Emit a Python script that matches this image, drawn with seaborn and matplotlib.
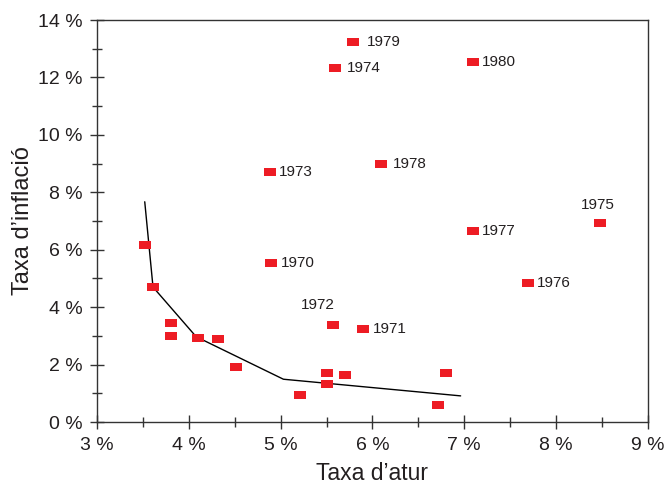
import pandas as pd
import seaborn as sns
import matplotlib.pyplot as plt
from matplotlib.ticker import MultipleLocator, FuncFormatter

# data (unemployment %, inflation %)
years = ["1970", "1971", "1972", "1973", "1974", "1975", "1976", "1977", "1978", "1979", "1980"]
atur_years = [4.9, 5.9, 5.57, 4.88, 5.59, 8.48, 7.69, 7.09, 6.09, 5.79, 7.09]
inflacio_years = [5.55, 3.25, 3.39, 8.71, 12.34, 6.94, 4.84, 6.66, 8.99, 13.24, 12.54]

# earlier points, no label
atur_60s = [3.52, 3.61, 3.81, 3.81, 4.1, 4.32, 4.51, 5.21, 5.5, 5.5, 5.7, 6.8, 6.71]
inflacio_60s = [6.18, 4.71, 3.46, 3.0, 2.94, 2.89, 1.92, 0.94, 1.72, 1.33, 1.65, 1.72, 0.6]

# phillips curve
curve_x = [3.52, 3.61, 4.08, 5.03, 6.96]
curve_y = [7.67, 4.7, 2.97, 1.49, 0.91]

sns.set_style("ticks")
plt.rcParams['font.family'] = ['Liberation Sans', 'DejaVu Sans']
txt_col = '#231f20'

pts = pd.DataFrame({'atur': atur_60s + atur_years, 'inflacio': inflacio_60s + inflacio_years})
curve = pd.DataFrame({'x': curve_x, 'y': curve_y})

fig = plt.figure(figsize=(6.68, 4.93), dpi=100)
ax = fig.add_axes([0.1452, 0.144, 0.8248, 0.8154])

sns.lineplot(data=curve, x='x', y='y', sort=False, color='black', linewidth=1, ax=ax)

rect = [(-1, -0.6), (1, -0.6), (1, 0.6), (-1, 0.6), (-1, -0.6)]
sns.scatterplot(data=pts, x='atur', y='inflacio', marker=rect, s=75,
                color='#ed1c24', linewidth=0, ax=ax, zorder=3)

# label offsets in points
offsets = {"1975": (-2, 13, 'center'), "1972": (-11, 14, 'center'),
           "1979": (10, 0, 'left'), "1974": (9, 0, 'left'), "1978": (8.5, 0, 'left'),
           "1971": (7, 0, 'left')}
for yr, xv, yv in zip(years, atur_years, inflacio_years):
    dx, dy, ha = offsets.get(yr, (6.5, 0, 'left'))
    ax.annotate(yr, (xv, yv), xytext=(dx, dy), textcoords='offset points',
                ha=ha, va='center', fontsize=11, color=txt_col)

ax.set_xlim(3, 9)
ax.set_ylim(0, 14)
ax.xaxis.set_major_locator(MultipleLocator(1))
ax.xaxis.set_minor_locator(MultipleLocator(0.5))
ax.yaxis.set_major_locator(MultipleLocator(2))
ax.yaxis.set_minor_locator(MultipleLocator(1))
ax.xaxis.set_major_formatter(FuncFormatter(lambda v, p: f"{v:.0f} %"))
ax.yaxis.set_major_formatter(FuncFormatter(lambda v, p: f"{v:.0f} %"))
ax.tick_params(which='major', direction='inout', length=10, width=1, color='#333333',
               labelsize=14, labelcolor=txt_col, pad=5.5)
ax.tick_params(which='minor', direction='inout', length=7, width=1, color='#333333')

for s in ax.spines.values():
    s.set_visible(True)
    s.set_color('#333333')
    s.set_linewidth(1)

ax.set_xlabel("Taxa d’atur", fontsize=16.5, color=txt_col, labelpad=6)
ax.set_ylabel("Taxa d’inflació", fontsize=17, color=txt_col, labelpad=3)

fig.savefig("out.png", dpi=100)
